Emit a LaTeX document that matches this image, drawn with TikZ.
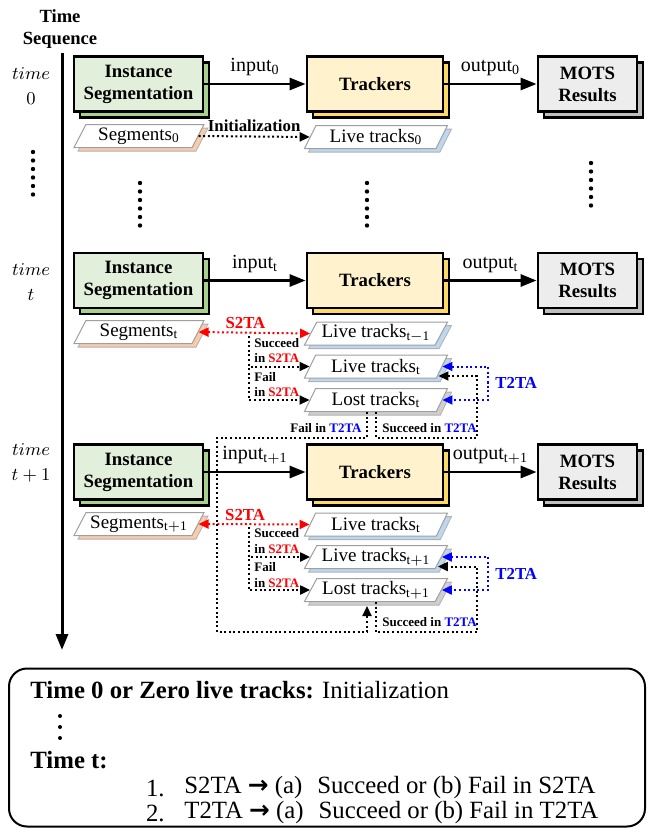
\documentclass[tikz,border=0pt]{standalone}
\usepackage{fontspec}
\setmainfont{Liberation Serif}
\newfontfamily\arrowfont{DejaVu Sans}
\usetikzlibrary{shapes.geometric,shadows,arrows.meta}

\definecolor{isfill}{HTML}{E2EFDA}
\definecolor{isshade}{HTML}{A9D18E}
\definecolor{trfill}{HTML}{FFF2CC}
\definecolor{trshade}{HTML}{FFD966}
\definecolor{mofill}{HTML}{EDEDED}
\definecolor{moshade}{HTML}{BFBFBF}
\definecolor{segshade}{HTML}{F8CBAD}
\definecolor{liveshade}{HTML}{BDD7EE}
\definecolor{lostshade}{HTML}{D0CECE}
\definecolor{tared}{HTML}{FF0000}
\definecolor{tablue}{HTML}{0000FF}

\tikzset{
  mainbox/.style={draw, rectangle, line width=1.4pt, minimum height=27.5pt, align=center, inner sep=1pt, font=\fontsize{9.4}{11}\selectfont\bfseries},
  isbox/.style={mainbox, fill=isfill, minimum width=64.5pt, general shadow={fill=isshade, draw=black, line width=1.4pt, shadow xshift=3pt, shadow yshift=-3pt}},
  trbox/.style={mainbox, fill=trfill, minimum width=68pt, general shadow={fill=trshade, draw=black, line width=1.4pt, shadow xshift=3pt, shadow yshift=-3pt}},
  motsbox/.style={mainbox, fill=mofill, minimum width=49.5pt, general shadow={fill=moshade, draw=black, line width=1.4pt, shadow xshift=3pt, shadow yshift=-3pt}},
  para/.style={trapezium, trapezium left angle=60, trapezium right angle=120, trapezium stretches body=true, draw=gray!75, line width=0.5pt, fill=white, minimum height=11.5pt, inner sep=1pt, font=\fontsize{9.5}{10}\selectfont},
  segpara/.style={para, minimum width=65pt, general shadow={fill=segshade, draw=gray!60, line width=0.4pt, shadow xshift=2pt, shadow yshift=-1.8pt}},
  livepara/.style={para, minimum width=71.5pt, general shadow={fill=liveshade, draw=gray!60, line width=0.4pt, shadow xshift=2pt, shadow yshift=-1.8pt}},
  lostpara/.style={para, minimum width=71.5pt, general shadow={fill=lostshade, draw=gray!60, line width=0.4pt, shadow xshift=2pt, shadow yshift=-1.8pt}},
  flow/.style={line width=1.4pt, -{Triangle[length=8pt,width=6pt]}},
  dotline/.style={line width=1pt, dash pattern=on 1pt off 1.3pt},
  dotarr/.style={dotline, -{Triangle[length=5pt,width=4.5pt]}},
  dotboth/.style={dotline, {Triangle[length=5pt,width=4.5pt]}-{Triangle[length=5pt,width=4.5pt]}},
  flowlbl/.style={font=\fontsize{10}{11}\selectfont, above=0pt},
  tinylbl/.style={font=\fontsize{6.5}{7}\selectfont\bfseries, inner sep=0.5pt},
  talbl/.style={font=\fontsize{8.4}{9}\selectfont\bfseries, inner sep=0.5pt},
  timelbl/.style={align=center, font=\fontsize{9.5}{12.5}\selectfont},
  boxtxt/.style={anchor=west, inner sep=0pt, font=\fontsize{12.4}{14}\selectfont},
}

\begin{document}
\begin{tikzpicture}[x=0.5pt,y=-0.5pt]
\useasboundingbox (0,0) rectangle (652,829);

% time axis
\node (seqlbl) [align=center, font=\fontsize{9.3}{11}\selectfont\bfseries] at (60,29) {Time\\Sequence};
\coordinate (axtop) at (62,53);
\coordinate (axend) at (62,650);
\draw[flow, line width=1.5pt] (axtop) -- (axend);
\node (time0) [timelbl] at (31,86) {$time$\\$0$};
\node (timet) [timelbl] at (31,282) {$time$\\$t$};
\node (timeu) [timelbl] at (31,463) {$time$\\$t+1$};

% time 0
\node (is0) [isbox] at (138.5,84) {Instance\\Segmentation};
\node (tr0) [trbox] at (375,84) {Trackers};
\node (mots0) [motsbox] at (587.5,84) {MOTS\\Results};
\node (seg0) [segpara] at (139,136) {Segments$_{\mathrm{0}}$};
\node (live0) [livepara] at (376,137) {Live tracks$_{\mathrm{0}}$};

% Arrows
\draw[flow] (is0) -- node[flowlbl] {input$_{\mathrm{0}}$} (tr0);
\draw[flow] (tr0) -- node[flowlbl] {output$_{\mathrm{0}}$} (mots0);
\draw[dotarr] (seg0.east) -- node[talbl, above=1.5pt] {Initialization} (live0.west);

% dots between the rows
\foreach \k in {0,...,5} {
  \fill (33,152+8.5*\k) circle (1.1pt);
  \fill (140,183+8.5*\k) circle (1.1pt);
  \fill (367,183+8.5*\k) circle (1.1pt);
  \fill (591,163+8.5*\k) circle (1.1pt);
}

% time t
\node (ist) [isbox] at (138.5,280.5) {Instance\\Segmentation};
\node (trt) [trbox] at (375,280.5) {Trackers};
\node (motst) [motsbox] at (587.5,280.5) {MOTS\\Results};
\node (segt) [segpara] at (139,332) {Segments$_{\mathrm{t}}$};
\node (prevt) [livepara] at (376,333.5) {Live tracks$_{\mathrm{t-1}}$};
\node (livet) [livepara] at (376,366.5) {Live tracks$_{\mathrm{t}}$};
\node (lostt) [lostpara] at (376,400) {Lost tracks$_{\mathrm{t}}$};

% Arrows
\draw[flow] (ist) -- node[flowlbl] {input$_{\mathrm{t}}$} (trt);
\draw[flow] (trt) -- node[flowlbl] {output$_{\mathrm{t}}$} (motst);
\draw[dotboth, tared] (segt.east) -- node[talbl, pos=0.42, above=1pt] {S2TA} (prevt.west);
\coordinate (s2tat) at (249,336);
\draw[dotarr] (s2tat) |- (livet.west);
\draw[dotarr] (s2tat) |- (lostt.west);
\node (sucst) [tinylbl, anchor=west] at (253,343) {Succeed};
\node (insst) [tinylbl, anchor=west] at (253,358) {in \textcolor{tared}{S2TA}};
\node (failst) [tinylbl, anchor=west] at (253,377) {Fail};
\node (infst) [tinylbl, anchor=west] at (253,392) {in \textcolor{tared}{S2TA}};
\coordinate (t2tat) at (488,383);
\draw[dotboth, tablue] (livet.east) -| (t2tat) |- (lostt.east);
\node (t2tal) [talbl, tablue, anchor=west] at (494,383) {T2TA};
\coordinate (succt) at (477,438);
\draw[dotarr] (lostt.south) |- (succt) |- ([xshift=-2pt,yshift=-4.75pt]livet.east);
\node (sucttl) [tinylbl, anchor=west] at (381,428) {Succeed in \textcolor{tablue}{T2TA}};
\node (failttl) [tinylbl, anchor=east] at (363,428) {Fail in \textcolor{tablue}{T2TA}};

% time t+1
\node (isu) [isbox] at (138.5,472) {Instance\\Segmentation};
\node (tru) [trbox] at (375,472) {Trackers};
\node (motsu) [motsbox] at (587.5,472) {MOTS\\Results};
\node (segu) [segpara] at (139,524) {Segments$_{\mathrm{t+1}}$};
\node (prevu) [livepara] at (376,524.5) {Live tracks$_{\mathrm{t}}$};
\node (liveu) [livepara] at (376,557) {Live tracks$_{\mathrm{t+1}}$};
\node (lostu) [lostpara] at (376,590) {Lost tracks$_{\mathrm{t+1}}$};

% Arrows
\draw[flow] (isu) -- node[flowlbl] {input$_{\mathrm{t+1}}$} (tru);
\draw[flow] (tru) -- node[flowlbl] {output$_{\mathrm{t+1}}$} (motsu);
\draw[dotboth, tared] (segu.east) -- node[talbl, pos=0.42, above=1pt] {S2TA} (prevu.west);
\coordinate (s2tau) at (249,527);
\draw[dotarr] (s2tau) |- (liveu.west);
\draw[dotarr] (s2tau) |- (lostu.west);
\node (sucsu) [tinylbl, anchor=west] at (253,533) {Succeed};
\node (inssu) [tinylbl, anchor=west] at (253,549) {in \textcolor{tared}{S2TA}};
\node (failsu) [tinylbl, anchor=west] at (253,567) {Fail};
\node (infsu) [tinylbl, anchor=west] at (253,583) {in \textcolor{tared}{S2TA}};
\coordinate (t2tau) at (488,574);
\draw[dotboth, tablue] (liveu.east) -| (t2tau) |- (lostu.east);
\node (t2tul) [talbl, tablue, anchor=west] at (494,574) {T2TA};
\coordinate (succu) at (477,632);
\draw[dotarr] (lostu.south) |- (succu) |- ([xshift=-2pt,yshift=-4.75pt]liveu.east);
\node (succul) [tinylbl, anchor=west] at (381,622) {Succeed in \textcolor{tablue}{T2TA}};

% lost tracks carried over to t+1
\coordinate (failt) at (217,438);
\coordinate (failu) at (217,632);
\draw[dotarr] ([xshift=-4.5pt]lostt.south) |- (failt) -- (failu) -| ([xshift=-4.5pt,yshift=-2pt]lostu.south);

% summary box
\node (note) [draw, rounded corners=9pt, line width=1pt, minimum width=318pt, minimum height=79pt] at (327,747.5) {};
\node (noteinit) [boxtxt] at (30,690) {\textbf{Time 0 or Zero live tracks:} Initialization};
\foreach \k in {0,1,2} \fill (60,716+11*\k) circle (1pt);
\node (notet) [boxtxt] at (30,760) {\textbf{Time t:}};
\node (noteonen) [boxtxt, anchor=east] at (165,788) {1.};
\node (noteone) [boxtxt] at (184,788) {S2TA {\arrowfont\bfseries →} (a)\hspace{0.6em}Succeed or (b) Fail in S2TA};
\node (notetwon) [boxtxt, anchor=east] at (165,813) {2.};
\node (notetwo) [boxtxt] at (184,813) {T2TA {\arrowfont\bfseries →} (a)\hspace{0.6em}Succeed or (b) Fail in T2TA};
\end{tikzpicture}
\end{document}
